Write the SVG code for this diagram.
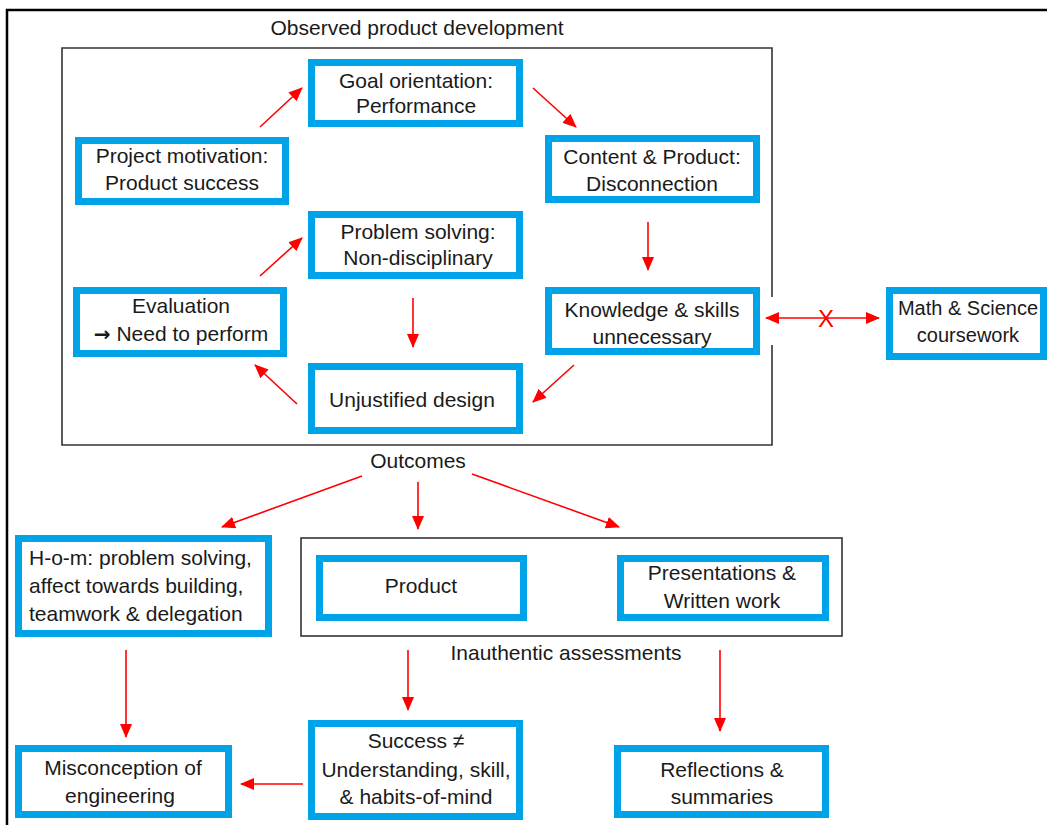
<svg xmlns="http://www.w3.org/2000/svg" width="1047" height="825" viewBox="0 0 1047 825">
<defs>
<marker id="ah" markerUnits="userSpaceOnUse" markerWidth="14" markerHeight="12" refX="13" refY="6" orient="auto-start-reverse">
<path d="M0,0 L14,6 L0,12 Z" fill="#FF0000"/>
</marker>
<style>
.box{fill:#FFFFFF;stroke:#00A2E8;stroke-width:7}
.frame{fill:none;stroke:#333333;stroke-width:1.6}
.t{font-family:"Liberation Sans",Arial,sans-serif;font-size:21px;fill:#1a1a1a;text-anchor:middle}
.l{text-anchor:start}
.c{fill:none;stroke:#FF0000;stroke-width:1.6;marker-end:url(#ah)}
</style>
</defs>
<rect width="1047" height="825" fill="#FFFFFF"/>
<path d="M7,825 V10 H1047" fill="none" stroke="#000000" stroke-width="2.5"/>
<g id="frame-observed">
<path class="frame" d="M772,297 V48 H62 V445 H772 V345"/>
<text class="t" x="417" y="35">Observed product development</text>
</g>
<g id="frame-assessments">
<rect class="frame" x="301" y="538" width="541" height="98"/>
<text class="t" x="566" y="660">Inauthentic assessments</text>
</g>
<g id="outcomes"><text class="t" x="418" y="468">Outcomes</text></g>

<g id="goal"><rect class="box" x="311.5" y="62.5" width="208" height="61"/>
<text class="t" x="416" y="88">Goal orientation:</text><text class="t" x="416" y="113">Performance</text></g>
<g id="project"><rect class="box" x="78.5" y="140.5" width="207" height="61"/>
<text class="t" x="182" y="163">Project motivation:</text><text class="t" x="182" y="190">Product success</text></g>
<g id="content"><rect class="box" x="548.5" y="138.5" width="208" height="61"/>
<text class="t" x="652" y="164">Content &amp; Product:</text><text class="t" x="652" y="191">Disconnection</text></g>
<g id="problem"><rect class="box" x="311.5" y="214.5" width="208" height="61"/>
<text class="t" x="418" y="239">Problem solving:</text><text class="t" x="418" y="265">Non-disciplinary</text></g>
<g id="evaluation"><rect class="box" x="76.5" y="290.5" width="207" height="63"/>
<text class="t" x="181" y="313">Evaluation</text><text class="t" x="181" y="341"><tspan font-family="DejaVu Sans, sans-serif" font-weight="bold" font-size="20">→</tspan> Need to perform</text></g>
<g id="knowledge"><rect class="box" x="548.5" y="290.5" width="208" height="61"/>
<text class="t" x="652" y="317">Knowledge &amp; skills</text><text class="t" x="652" y="344">unnecessary</text></g>
<g id="unjustified"><rect class="box" x="311.5" y="366.5" width="208" height="64"/>
<text class="t" x="412" y="407">Unjustified design</text></g>
<g id="math"><rect class="box" x="889.5" y="290.5" width="154" height="66"/>
<text class="t" x="968" y="315" font-size="20" style="font-size:20px">Math &amp; Science</text><text class="t" x="968" y="342" style="font-size:20px">coursework</text></g>
<g id="hom"><rect class="box" x="18.5" y="538.5" width="250" height="95"/>
<text class="t l" x="29" y="565">H-o-m: problem solving,</text><text class="t l" x="29" y="593">affect towards building,</text><text class="t l" x="29" y="621">teamwork &amp; delegation</text></g>
<g id="product"><rect class="box" x="319.5" y="558.5" width="204" height="59"/>
<text class="t" x="421" y="593">Product</text></g>
<g id="presentations"><rect class="box" x="620.5" y="558.5" width="205" height="59"/>
<text class="t" x="722" y="580">Presentations &amp;</text><text class="t" x="722" y="608">Written work</text></g>
<g id="misconception"><rect class="box" x="18.5" y="748.5" width="210" height="66"/>
<text class="t" x="123" y="775">Misconception of</text><text class="t" x="120" y="803">engineering</text></g>
<g id="success"><rect class="box" x="311.5" y="723.5" width="208" height="93"/>
<text class="t" x="416" y="748">Success ≠</text><text class="t" x="416" y="777">Understanding, skill,</text><text class="t" x="416" y="804">&amp; habits-of-mind</text></g>
<g id="reflections"><rect class="box" x="617.5" y="748.5" width="208" height="66"/>
<text class="t" x="722" y="777">Reflections &amp;</text><text class="t" x="722" y="804">summaries</text></g>

<g id="connectors">
<path class="c" d="M260,127 L302,88"/>
<path class="c" d="M533,88 L576,127"/>
<path class="c" d="M648,222 L648,270"/>
<path class="c" d="M574,365 L533,402"/>
<path class="c" d="M297,404 L255,365"/>
<path class="c" d="M260,276 L302,238"/>
<path class="c" d="M413,298 L413,347"/>
<path class="c" d="M766,318 L879,318" style="marker-start:url(#ah)"/>
<text x="826" y="327" font-family="Liberation Sans, Arial, sans-serif" font-size="24" fill="#FF0000" text-anchor="middle">X</text>
<path class="c" d="M362,476 L222,527"/>
<path class="c" d="M418,482 L418,529"/>
<path class="c" d="M472,474 L619,527"/>
<path class="c" d="M126,650 L126,737"/>
<path class="c" d="M408,650 L408,710"/>
<path class="c" d="M720,650 L720,731"/>
<path class="c" d="M303,784 L241,784"/>
</g>
</svg>
